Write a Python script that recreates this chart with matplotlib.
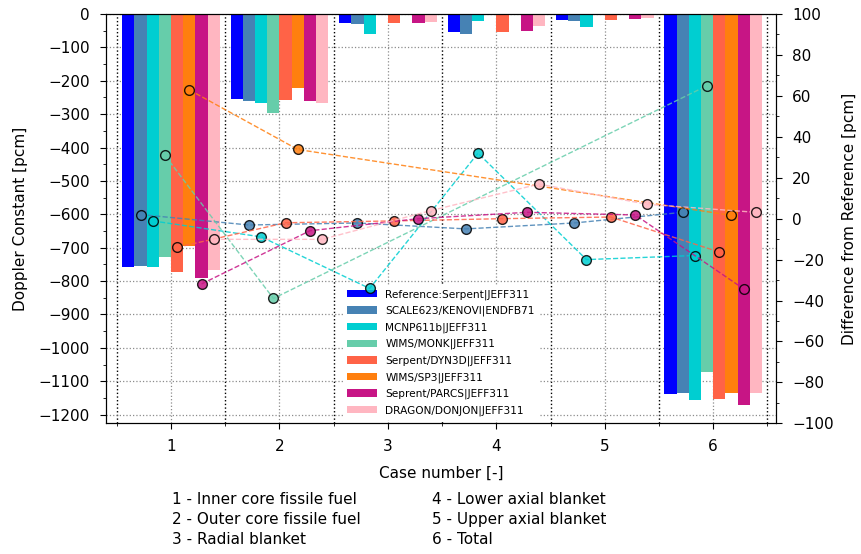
import numpy as np
import matplotlib
matplotlib.use("Agg")
import matplotlib.pyplot as plt
from matplotlib.ticker import MultipleLocator

plt.rcParams['font.family'] = ['DejaVu Sans']
plt.rcParams['font.size'] = 11

cases = [1, 2, 3, 4, 5, 6]
codes = ["Reference:Serpent|JEFF311", "SCALE623/KENOVI|ENDFB71", "MCNP611b|JEFF311",
         "WIMS/MONK|JEFF311", "Serpent/DYN3D|JEFF311", "WIMS/SP3|JEFF311",
         "Seprent/PARCS|JEFF311", "DRAGON/DONJON|JEFF311"]
colors = ["#0000ff", "#4682b4", "#00ced1", "#66cdaa", "#ff6347", "#ff7f0e", "#c71585", "#ffb6c1"]

# Doppler constants [pcm], NaN = not computed
nan = np.nan
ref = [-758, -256, -28, -53, -19, -1138]
scale = [-756, -260, -30, -59, -21, -1135]
mcnp = [-758, -267, -60, -22, -38, -1155]
wims_monk = [-728, -296, nan, nan, nan, -1071]
dyn3d = [-773, -259, -28, -53, -18, -1153]
sp3 = [-695, -223, nan, nan, nan, -1135]
parcs = [-790, -262, -28, -51, -15, -1171]
dragon = [-768, -267, -24, -37, -11, -1135]
doppler = [ref, scale, mcnp, wims_monk, dyn3d, sp3, parcs, dragon]

# difference from reference [pcm]
d_scale = [2.0, -3.1, -2.1, -5.0, -2.1, 3.1]
d_mcnp = [-1.1, -8.9, -34.1, 32.0, -20.0, -18.0]
d_wims_monk = [30.9, -39.0, nan, nan, nan, 65.0]
d_dyn3d = [-14.0, -2.0, -1.1, 0.0, 0.8, -16.3]
d_sp3 = [62.9, 33.8, nan, nan, nan, 1.6]
d_parcs = [-31.9, -5.9, 0.0, 3.1, 1.8, -34.3]
d_dragon = [-10.1, -10.1, 3.9, 16.9, 7.0, 3.1]
diffs = [d_scale, d_mcnp, d_wims_monk, d_dyn3d, d_sp3, d_parcs, d_dragon]

region_labels = ["1 - Inner core fissile fuel", "2 - Outer core fissile fuel", "3 - Radial blanket",
                 "4 - Lower axial blanket", "5 - Upper axial blanket", "6 - Total"]

x = np.array(cases, dtype=float)
w = 0.1125

fig = plt.figure(figsize=(8.62, 5.54), dpi=100)
ax1 = fig.add_axes([0.123, 0.2359, 0.7773, 0.7388])

for k, (vals, c, name) in enumerate(zip(doppler, colors, codes)):
    v = np.nan_to_num(np.array(vals, dtype=float))
    ax1.bar(x + (k - 3.5) * w, v, width=w, color=c, label=name, zorder=2)

ax1.set_xlim(0.4, 6.58)
ax1.set_ylim(-1226, 0)
ax1.xaxis.set_major_locator(MultipleLocator(1))
ax1.xaxis.set_minor_locator(MultipleLocator(1, offset=0.5))
ax1.yaxis.set_major_locator(MultipleLocator(100))
ax1.yaxis.set_minor_locator(MultipleLocator(50))
ax1.tick_params(which='major', length=4.5, pad=7)
ax1.tick_params(which='minor', length=2.5)
ax1.grid(which='major', linestyle=':', color='0.55', linewidth=0.9, zorder=0)
ax1.grid(which='minor', axis='x', linestyle=':', color='k', linewidth=1.0, zorder=0)
ax1.set_axisbelow(True)
ax1.set_xlabel("Case number [-]", labelpad=8)
ax1.set_ylabel("Doppler Constant [pcm]", labelpad=8)

leg = ax1.legend(loc='lower center', fontsize=7.6, frameon=True, framealpha=1,
                 edgecolor='none', fancybox=False, handlelength=2.8, borderaxespad=0.3,
                 labelspacing=0.58)

ax2 = ax1.twinx()
for k, (vals, c) in enumerate(zip(diffs, colors[1:])):
    v = np.array(vals, dtype=float)
    ok = ~np.isnan(v)
    xp = (x + (k + 1 - 3.5) * w)[ok]
    ax2.plot(xp, v[ok], linestyle='--', color=c, linewidth=1.0, alpha=0.85,
             marker='o', markersize=7, markerfacecolor=c, markeredgecolor='k',
             markeredgewidth=1.0)
ax2.set_ylim(-100, 100)
ax2.yaxis.set_major_locator(MultipleLocator(20))
ax2.yaxis.set_minor_locator(MultipleLocator(10))
ax2.tick_params(which='major', length=4.5, pad=7)
ax2.tick_params(which='minor', length=2.5)
ax2.set_ylabel("Difference from Reference [pcm]", labelpad=6)

col_x = [172 / 862, 432 / 862]
row_y = [500, 519.5, 539]
for i, lab in enumerate(region_labels):
    fig.text(col_x[i // 3], 1 - row_y[i % 3] / 554, lab, ha='left', va='center', fontsize=11)

fig.savefig("out.png", dpi=100)
